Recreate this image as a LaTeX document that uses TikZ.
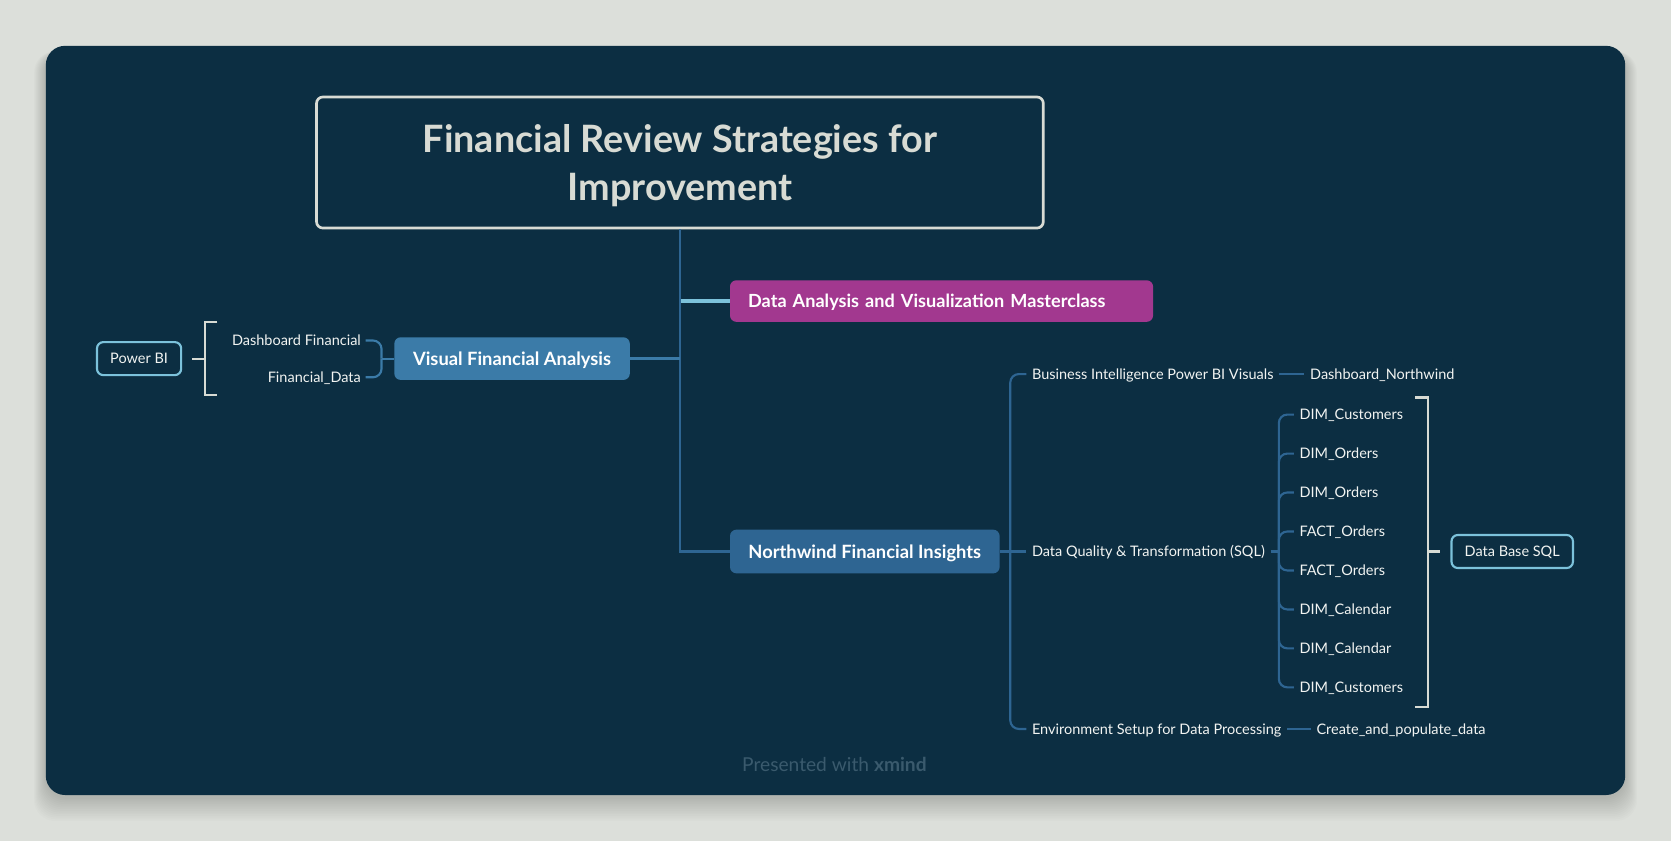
\documentclass[tikz,border=0pt]{standalone}
\usepackage{fontspec}
\setmainfont{Lato}
\usetikzlibrary{calc}
\definecolor{pagebg}{HTML}{DCDFDA}
\definecolor{panel}{HTML}{0C2E42}
\definecolor{titlec}{HTML}{D8DBD4}
\definecolor{trunkc}{HTML}{2E6592}
\definecolor{vfac}{HTML}{3B7BA8}
\definecolor{nfic}{HTML}{2E6592}
\definecolor{magc}{HTML}{A2388F}
\definecolor{lbluec}{HTML}{7CC2DB}
\definecolor{txtc}{HTML}{F2F4F2}
\definecolor{footc}{HTML}{3A5A6D}
\tikzset{
  titlebox/.style={draw=titlec, line width=1.25pt, rounded corners=3pt, text=titlec,
    font=\fontsize{17.7}{22.5}\selectfont\bfseries, align=center, text depth=0pt,
    minimum width=341pt, minimum height=61.5pt, inner sep=0pt},
  mainbox/.style={rounded corners=3pt, text=white, font=\fontsize{8.6}{10}\selectfont\bfseries,
    inner sep=0pt, text height=6.2pt, text depth=0pt},
  leaf/.style={text=txtc, font=\fontsize{6.8}{8}\selectfont, inner xsep=2.5pt, inner ysep=0pt,
    text height=4.9pt, text depth=0pt},
  outbox/.style={draw=lbluec, line width=1pt, rounded corners=3pt, text=txtc,
    font=\fontsize{6.8}{8}\selectfont, inner sep=0pt, text height=4.9pt, text depth=0pt,
    minimum height=15.5pt},
  trunkline/.style={draw=trunkc, line width=1.25pt},
  vfaline/.style={draw=vfac, line width=1.25pt},
  branchline/.style={draw=nfic, line width=1pt, rounded corners=4pt},
  vfabranch/.style={draw=vfac, line width=1pt, rounded corners=4pt},
  bracketline/.style={draw=titlec, line width=1pt},
}
\begin{document}
\begin{tikzpicture}[x=0.5pt,y=-0.5pt]
\useasboundingbox (0,0) rectangle (1568,789);
\fill[pagebg] (0,0) rectangle (1568,789);
% shadow
\foreach \i in {1,...,14}{
  \fill[black, opacity=0.012, rounded corners=10pt] (43-\i*0.8,48) rectangle (1525+\i*0.8,748+\i*1.6);
}
\fill[panel, rounded corners=9pt] (43,43) rectangle (1525,746);

% nodes
\node[titlebox] (title) at (638,152.5) {Financial Review Strategies for\\Improvement};
\node[mainbox, fill=magc, font=\fontsize{8.5}{10}\selectfont\bfseries, minimum width=198.5pt, minimum height=19.5pt, text width=181.5pt,
  inner xsep=8.5pt, align=left] (dava) at (883.5,282.5) {Data Analysis and Visualization Masterclass};
\node[mainbox, fill=vfac, minimum width=110.5pt, minimum height=20pt] (vfa) at (480.5,336.5) {Visual Financial Analysis};
\node[mainbox, fill=nfic, minimum width=126.5pt, minimum height=20.5pt] (nfi) at (811.5,517.5) {Northwind Financial Insights};

\node[leaf, anchor=west] (bi) at (963,351) {Business Intelligence Power BI Visuals};
\node[leaf, anchor=west] (dn) at (1224,351) {Dashboard\_Northwind};
\node[leaf, anchor=west] (dq) at (963,517.5) {Data Quality \& Transformation (SQL)};
\node[leaf, anchor=west] (env) at (963,684) {Environment Setup for Data Processing};
\node[leaf, anchor=west] (cp) at (1230,684) {Create\_and\_populate\_data};

\node[leaf, anchor=west] (t1) at (1214,389) {DIM\_Customers};
\node[leaf, anchor=west] (t2) at (1214,425.6) {DIM\_Orders};
\node[leaf, anchor=west] (t3) at (1214,462.1) {DIM\_Orders};
\node[leaf, anchor=west] (t4) at (1214,498.7) {FACT\_Orders};
\node[leaf, anchor=west] (t5) at (1214,535.3) {FACT\_Orders};
\node[leaf, anchor=west] (t6) at (1214,571.9) {DIM\_Calendar};
\node[leaf, anchor=west] (t7) at (1214,608.4) {DIM\_Calendar};
\node[leaf, anchor=west] (t8) at (1214,645) {DIM\_Customers};

\node[outbox, minimum width=57pt] (dbs) at (1419,517.5) {Data Base SQL};
\node[outbox, minimum width=39.5pt] (pbi) at (130.5,336.5) {Power BI};

\node[leaf, anchor=east, inner xsep=2pt] (df) at (343,319.5) {Dashboard Financial};
\node[leaf, anchor=east, inner xsep=2pt] (fd) at (343,354) {Financial\_Data};

\node[text=footc, font=\fontsize{9}{10.8}\selectfont] (foot) at (783,717) {Presented with \textbf{xmind}};

% coordinates
\coordinate (nfs) at (948,517.5);
\coordinate (dqs) at (1200,517.5);
\coordinate (vfs) at (358,336.5);
\coordinate (rb1) at (1328,373);
\coordinate (rb2) at (1340,663);
\coordinate (rb3) at (1328,663);
\coordinate (rbm) at (1340,517.5);
\coordinate (rbs) at (1351,517.5);
\coordinate (lb1) at (204,302);
\coordinate (lb2) at (192,371);
\coordinate (lb3) at (204,371);
\coordinate (lbm) at (192,336.5);
\coordinate (lbs) at (180,336.5);

% connectors
\draw[draw=lbluec, line width=1.5pt] (dava.west) -- (dava.west -| title.south);
\draw[trunkline] (title.south) |- (nfi.west);
\draw[vfaline] (vfa.east) -- (vfa.east -| title.south);

\draw[branchline] (nfi.east) -- (dq.west);
\draw[branchline] (bi.west) -| (nfs);
\draw[branchline] (env.west) -| (nfs);
\draw[branchline] (bi.east) -- (dn.west);
\draw[branchline] (env.east) -- (cp.west);
\draw[branchline] (dq.east) -- (dqs);
\foreach \t in {t1,t2,t3,t4,t5,t6,t7,t8}{
  \draw[branchline] (\t.west) -| (dqs);
}
\draw[vfabranch] (vfa.west) -- (vfs);
\draw[vfabranch] (df.east) -| (vfs);
\draw[vfabranch] (fd.east) -| (vfs);

\draw[bracketline] (rb1) -| (rb2) -- (rb3);
\draw[bracketline] (rbm) -- (rbs);
\draw[bracketline] (lb1) -| (lb2) -- (lb3);
\draw[bracketline] (lbm) -- (lbs);
\end{tikzpicture}
\end{document}
